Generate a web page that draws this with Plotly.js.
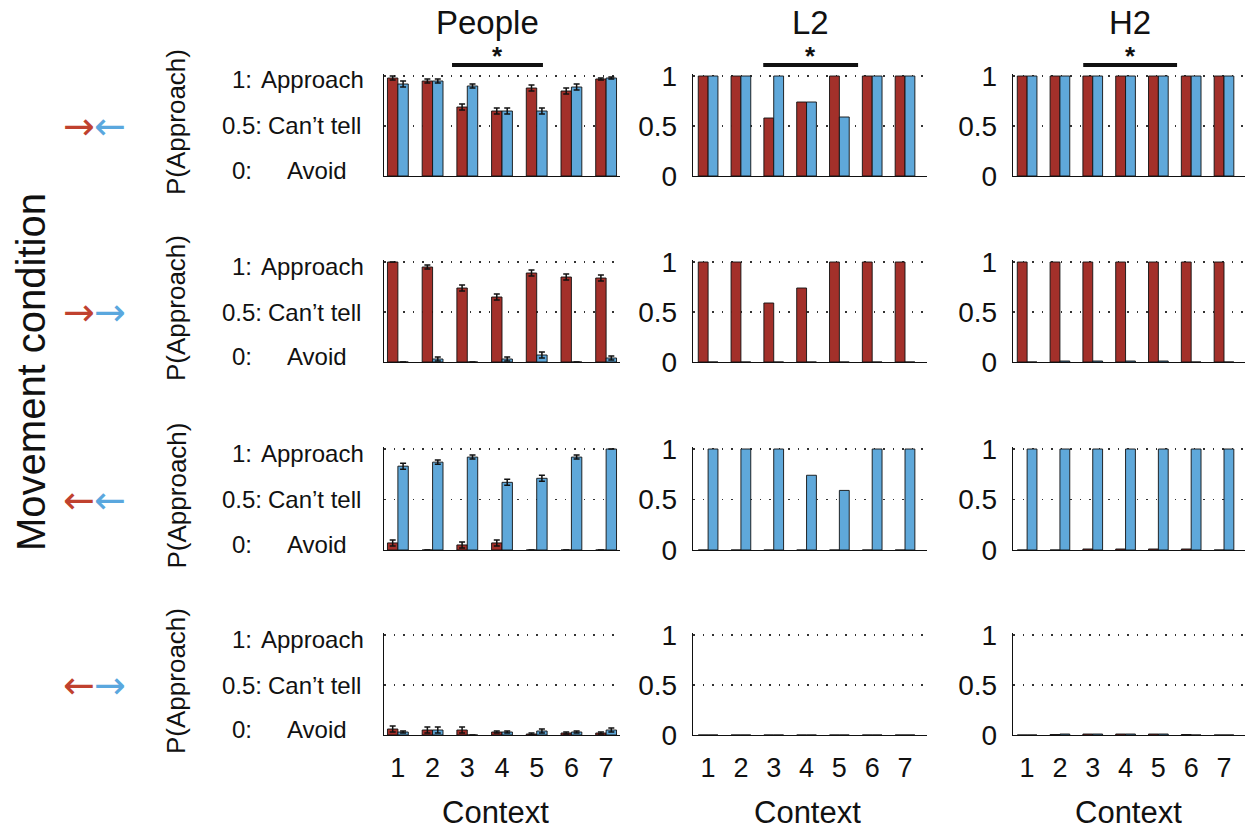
<!DOCTYPE html>
<html>
<head>
<meta charset="utf-8">
<script src="https://cdn.plot.ly/plotly-3.0.1.min.js"></script>
<style>
  html, body { margin: 0; padding: 0; background: #fff; }
  #chart { width: 1248px; height: 830px; }
</style>
</head>
<body>
<div id="chart"></div>
<script>
// Context categories shared by every panel
const contexts = [1, 2, 3, 4, 5, 6, 7];
const contextLabels = ['1', '2', '3', '4', '5', '6', '7'];

// Panel columns and movement-condition rows
const columnTitles = ['People', 'L2', 'H2'];
const rowArrows = [['→', '←'], ['→', '→'], ['←', '←'], ['←', '→']];
const peopleLevelNums = ['1:', '0.5:', '0:'];
const peopleLevelWords = ['Approach', 'Can\u2019t tell', 'Avoid'];
const levelValues = [1, 0.5, 0];

// People: P(Approach) for the red and blue agent, with standard errors
const peopleRed1 = [0.98, 0.95, 0.69, 0.65, 0.88, 0.85, 0.97];
const peopleBlue1 = [0.92, 0.95, 0.90, 0.65, 0.65, 0.89, 0.98];
const peopleRedErr1 = [0.02, 0.02, 0.03, 0.03, 0.03, 0.03, 0.01];
const peopleBlueErr1 = [0.03, 0.02, 0.02, 0.03, 0.03, 0.03, 0.01];

const peopleRed2 = [1.0, 0.95, 0.74, 0.65, 0.89, 0.85, 0.84];
const peopleBlue2 = [0, 0.03, 0, 0.03, 0.07, 0, 0.04];
const peopleRedErr2 = [null, 0.02, 0.03, 0.03, 0.03, 0.03, 0.03];
const peopleBlueErr2 = [null, 0.02, null, 0.02, 0.03, null, 0.02];

const peopleRed3 = [0.07, 0, 0.05, 0.07, 0, 0, 0];
const peopleBlue3 = [0.83, 0.87, 0.92, 0.67, 0.71, 0.92, 1.0];
const peopleRedErr3 = [0.03, null, 0.03, 0.03, null, null, null];
const peopleBlueErr3 = [0.03, 0.02, 0.02, 0.03, 0.03, 0.02, null];

const peopleRed4 = [0.06, 0.05, 0.05, 0.03, 0.01, 0.02, 0.02];
const peopleBlue4 = [0.03, 0.05, 0, 0.03, 0.04, 0.03, 0.05];
const peopleRedErr4 = [0.03, 0.03, 0.03, 0.01, 0.01, 0.01, 0.01];
const peopleBlueErr4 = [0.01, 0.03, null, 0.01, 0.02, 0.01, 0.02];

// L2 model
const l2Red1 = [1, 1, 0.58, 0.74, 1, 1, 1];
const l2Blue1 = [1, 1, 1, 0.74, 0.59, 1, 1];
const l2Red2 = [1, 1, 0.59, 0.74, 1, 1, 1];
const l2Blue2 = [0, 0, 0, 0, 0, 0, 0];
const l2Red3 = [0, 0, 0, 0, 0, 0, 0];
const l2Blue3 = [1, 1, 1, 0.74, 0.59, 1, 1];
const l2Red4 = [0, 0, 0, 0, 0, 0, 0];
const l2Blue4 = [0, 0, 0, 0, 0, 0, 0];

// H2 model
const h2Red1 = [1, 1, 1, 1, 1, 1, 1];
const h2Blue1 = [1, 1, 1, 1, 1, 1, 1];
const h2Red2 = [1, 1, 1, 1, 1, 1, 1];
const h2Blue2 = [0, 0.01, 0.01, 0.01, 0.01, 0, 0];
const h2Red3 = [0, 0, 0.01, 0.01, 0.01, 0.01, 0];
const h2Blue3 = [1, 1, 1, 1, 1, 1, 1];
const h2Red4 = [0, 0.005, 0.01, 0.01, 0.01, 0.005, 0];
const h2Blue4 = [0, 0.01, 0.01, 0.01, 0.01, 0, 0];

// Significance brackets over the first row (context span per column)
const sigSpans = [[2.56, 5.18], [2.68, 5.57], [2.71, 5.57]];

const panelData = [
  [
    [peopleRed1, peopleBlue1, peopleRedErr1, peopleBlueErr1],
    [l2Red1, l2Blue1, null, null],
    [h2Red1, h2Blue1, null, null]
  ],
  [
    [peopleRed2, peopleBlue2, peopleRedErr2, peopleBlueErr2],
    [l2Red2, l2Blue2, null, null],
    [h2Red2, h2Blue2, null, null]
  ],
  [
    [peopleRed3, peopleBlue3, peopleRedErr3, peopleBlueErr3],
    [l2Red3, l2Blue3, null, null],
    [h2Red3, h2Blue3, null, null]
  ],
  [
    [peopleRed4, peopleBlue4, peopleRedErr4, peopleBlueErr4],
    [l2Red4, l2Blue4, null, null],
    [h2Red4, h2Blue4, null, null]
  ]
];

// Page geometry (pixels)
const W = 1248, H = 830;
const cols = [
  { left: 384, right: 620, range: [0.6, 7.4], titleX: 487, contextX: 496 },
  { left: 693, right: 927, range: [0.54, 7.67], titleX: 810, contextX: 807 },
  { left: 1013, right: 1245, range: [0.57, 7.64], titleX: 1130, contextX: 1128 }
];
const yTop = 1.02;
// pixel row of value 0 and value 1 in each row
const rows = [[176, 76], [362, 262], [550, 449], [735, 635]];

const RED = '#a3302a';
const BLUE = '#5fa8da';
const ARROW_RED = '#c0412e';
const ARROW_BLUE = '#5aa7de';
const FONT = 'Liberation Sans, Arial, sans-serif';

const px = x => x / W;
const py = y => 1 - y / H;

const traces = [];
const layout = {
  width: W, height: H,
  margin: { l: 0, r: 0, t: 0, b: 0 },
  paper_bgcolor: '#fff', plot_bgcolor: 'rgba(0,0,0,0)',
  showlegend: false,
  barmode: 'group',
  bargap: 0.4,
  bargroupgap: 0,
  font: { family: FONT, color: '#000' },
  annotations: [],
  shapes: []
};

// centre of the number part and of the word part of the People level labels
const numCentre = 242;
const wordCentre = [312, 314, 317];

let k = 0;
for (let r = 0; r < 4; r++) {
  const y0px = rows[r][0], y1px = rows[r][1];
  const ydom = [py(y0px), py(y1px - (yTop - 1) * (y0px - y1px))];
  for (let c = 0; c < 3; c++) {
    k++;
    const xa = k === 1 ? 'x' : 'x' + k;
    const ya = k === 1 ? 'y' : 'y' + k;
    const xkey = k === 1 ? 'xaxis' : 'xaxis' + k;
    const ykey = k === 1 ? 'yaxis' : 'yaxis' + k;
    const [redVals, blueVals, redErr, blueErr] = panelData[r][c];

    const bar = (vals, err, color) => {
      const t = {
        type: 'bar', x: contexts, y: vals, xaxis: xa, yaxis: ya,
        marker: { color: color, line: { color: '#111', width: 0.9 } },
        hoverinfo: 'skip'
      };
      if (err) {
        t.error_y = { type: 'data', array: err, visible: true, color: '#111', thickness: 1.5, width: 3 };
      }
      return t;
    };
    traces.push(bar(redVals, redErr, RED));
    traces.push(bar(blueVals, blueErr, BLUE));

    layout[xkey] = {
      domain: [px(cols[c].left), px(cols[c].right)],
      anchor: ya,
      range: cols[c].range,
      tickmode: 'array', tickvals: contexts, ticktext: contextLabels,
      showticklabels: r === 3,
      ticks: '', ticklabelstandoff: 8,
      tickfont: { family: FONT, size: 27, color: '#111' },
      showgrid: false, zeroline: false,
      showline: true, linecolor: '#111', linewidth: 1.3,
      fixedrange: true
    };
    layout[ykey] = {
      domain: ydom,
      anchor: xa,
      range: [0, yTop],
      tickmode: 'array', tickvals: levelValues,
      ticktext: ['1', '0.5', '0'],
      showticklabels: c !== 0,
      ticks: '', ticklabelstandoff: 9,
      tickfont: { family: FONT, size: 28, color: '#111' },
      showgrid: true, gridcolor: '#333', gridwidth: 1.5, griddash: '1.5px,8px',
      zeroline: false,
      showline: true, linecolor: '#111', linewidth: 1.3,
      fixedrange: true
    };

    // Level labels on the People panels
    if (c === 0) {
      for (let i = 0; i < 3; i++) {
        const ys = i === 2 ? 6 : (i === 0 ? -4 : 0);
        layout.annotations.push({
          xref: 'paper', yref: ya, x: px(numCentre), y: levelValues[i],
          xanchor: 'center', yanchor: 'middle', showarrow: false,
          text: peopleLevelNums[i], font: { family: FONT, size: 24, color: '#111' },
          yshift: ys
        });
        layout.annotations.push({
          xref: 'paper', yref: ya, x: px(wordCentre[i]), y: levelValues[i],
          xanchor: 'center', yanchor: 'middle', showarrow: false,
          text: peopleLevelWords[i], font: { family: FONT, size: 24, color: '#111' },
          yshift: ys
        });
      }
    }

    // Column titles and significance brackets on the first row
    if (r === 0) {
      layout.annotations.push({
        xref: 'paper', yref: 'paper', x: px(cols[c].titleX), y: py(23),
        xanchor: 'center', yanchor: 'middle', showarrow: false,
        text: columnTitles[c], font: { family: FONT, size: 33, color: '#111' }
      });
      layout.shapes.push({
        type: 'line', xref: xa, yref: 'paper',
        x0: sigSpans[c][0], x1: sigSpans[c][1], y0: py(65), y1: py(65),
        line: { color: '#111', width: 4 }
      });
      layout.annotations.push({
        xref: xa, yref: 'paper', x: (sigSpans[c][0] + sigSpans[c][1]) / 2, y: py(56),
        xanchor: 'center', yanchor: 'middle', showarrow: false,
        text: '<b>*</b>', font: { family: FONT, size: 26, color: '#111' }
      });
    }

    // Axis title under the last row
    if (r === 3) {
      layout.annotations.push({
        xref: 'paper', yref: 'paper', x: px(cols[c].contextX), y: py(812),
        xanchor: 'center', yanchor: 'middle', showarrow: false,
        text: 'Context', font: { family: FONT, size: 31, color: '#111' }
      });
    }
  }

  // Row labels: P(Approach) and the movement-condition arrows
  const rowMid = (rows[r][0] + rows[r][1]) / 2;
  layout.annotations.push({
    xref: 'paper', yref: 'paper', x: px(176), y: py(rowMid - 4),
    xanchor: 'center', yanchor: 'middle', showarrow: false, textangle: -90,
    text: 'P(Approach)', font: { family: FONT, size: 26, color: '#111' }
  });
  layout.annotations.push({
    xref: 'paper', yref: 'paper', x: px(79), y: py(rowMid),
    xanchor: 'center', yanchor: 'middle', showarrow: false,
    text: rowArrows[r][0], font: { family: 'DejaVu Sans', size: 38, color: ARROW_RED }
  });
  layout.annotations.push({
    xref: 'paper', yref: 'paper', x: px(110), y: py(rowMid),
    xanchor: 'center', yanchor: 'middle', showarrow: false,
    text: rowArrows[r][1], font: { family: 'DejaVu Sans', size: 38, color: ARROW_BLUE }
  });
}

layout.annotations.push({
  xref: 'paper', yref: 'paper', x: px(31), y: py(372),
  xanchor: 'center', yanchor: 'middle', showarrow: false, textangle: -90,
  text: 'Movement condition', font: { family: FONT, size: 40, color: '#111' }
});

Plotly.newPlot('chart', traces, layout, { displayModeBar: false, staticPlot: true });
</script>
</body>
</html>
